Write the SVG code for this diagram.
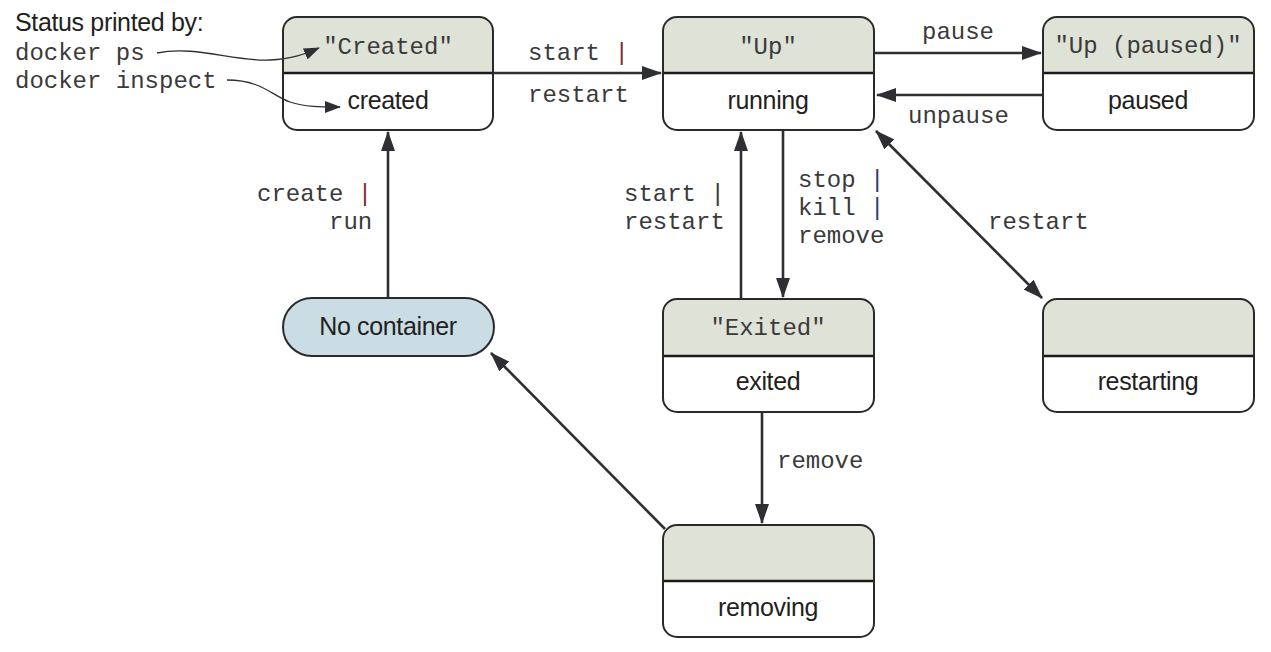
<svg xmlns="http://www.w3.org/2000/svg" width="1271" height="652" viewBox="0 0 1271 652">
<style>
.box{fill:#ffffff;stroke:#2a2a2a;stroke-width:2}
.hdr{fill:#dfe2d7}
.div{stroke:#1a1a1a;stroke-width:2.5}
.mono{font-family:"Liberation Mono","Courier New",monospace;font-size:24px;fill:#3a3a3a}
.sans{font-family:"Liberation Sans",Arial,sans-serif;font-size:25px;fill:#231f20;letter-spacing:-0.35px}
.c{text-anchor:middle}
.e{text-anchor:end}
.edge{fill:none;stroke:#2d2f33;stroke-width:2.6}
.ptr{fill:none;stroke:#2d2f33;stroke-width:1.3}
.red{fill:#7a2e2e}
.blue{fill:#2f3a78}
</style>
<defs>
<marker id="ah" viewBox="0 0 20 14" refX="19" refY="7" markerWidth="20" markerHeight="14" markerUnits="userSpaceOnUse" orient="auto-start-reverse">
<path d="M0,0 L20,7 L0,14 z" fill="#2d2f33"/>
</marker>
<marker id="ahs" viewBox="0 0 16 12" refX="15" refY="6" markerWidth="16" markerHeight="12" markerUnits="userSpaceOnUse" orient="auto">
<path d="M0,0 L16,6 L0,12 z" fill="#2d2f33"/>
</marker>
</defs>

<g id="connectors">
<line class="edge" x1="493" y1="73" x2="661" y2="73" marker-end="url(#ah)"/>
<line class="edge" x1="874" y1="53" x2="1041" y2="53" marker-end="url(#ah)"/>
<line class="edge" x1="1043" y1="95" x2="877" y2="95" marker-end="url(#ah)"/>
<line class="edge" x1="783" y1="130" x2="783" y2="297" marker-end="url(#ah)"/>
<line class="edge" x1="741" y1="299" x2="741" y2="132" marker-end="url(#ah)"/>
<line class="edge" x1="876" y1="131" x2="1042" y2="298" marker-start="url(#ah)" marker-end="url(#ah)"/>
<line class="edge" x1="388" y1="299" x2="388" y2="132" marker-end="url(#ah)"/>
<line class="edge" x1="762" y1="412" x2="762" y2="523" marker-end="url(#ah)"/>
<line class="edge" x1="665" y1="529" x2="491" y2="353" marker-end="url(#ah)"/>
<text class="mono" x="528" y="60">start <tspan class="red">|</tspan></text>
<text class="mono" x="528" y="102">restart</text>
<text class="mono" x="922" y="39">pause</text>
<text class="mono" x="908" y="123">unpause</text>
<text class="mono" x="798" y="187">stop <tspan class="blue">|</tspan></text>
<text class="mono" x="798" y="215">kill <tspan class="blue">|</tspan></text>
<text class="mono" x="798" y="243">remove</text>
<text class="mono" x="624" y="201">start <tspan>|</tspan></text>
<text class="mono" x="624" y="229">restart</text>
<text class="mono" x="988" y="229">restart</text>
<text class="mono" x="257" y="201">create <tspan class="red">|</tspan></text>
<text class="mono" x="329" y="229">run</text>
<text class="mono" x="777" y="468">remove</text>
</g>

<g id="created">
<path class="hdr" d="M297,18 H479 A13,13 0 0 1 492,31 V73 H284 V31 A13,13 0 0 1 297,18 z"/>
<rect class="box" x="283" y="17" width="210" height="113" rx="14" style="fill:none"/>
<line class="div" x1="284" y1="73" x2="492" y2="73"/>
<text class="mono c" x="388" y="54">"Created"</text>
<text class="sans c" x="388" y="109">created</text>
</g>

<g id="running">
<path class="hdr" d="M677,18 H860 A13,13 0 0 1 873,31 V73 H664 V31 A13,13 0 0 1 677,18 z"/>
<rect class="box" x="663" y="17" width="211" height="113" rx="14" style="fill:none"/>
<line class="div" x1="664" y1="73" x2="873" y2="73"/>
<text class="mono c" x="768" y="54">"Up"</text>
<text class="sans c" x="768" y="109">running</text>
</g>

<g id="paused">
<path class="hdr" d="M1057,18 H1240 A13,13 0 0 1 1253,31 V73 H1044 V31 A13,13 0 0 1 1057,18 z"/>
<rect class="box" x="1043" y="17" width="211" height="113" rx="14" style="fill:none"/>
<line class="div" x1="1044" y1="73" x2="1253" y2="73"/>
<text class="mono c" x="1148" y="53">"Up (paused)"</text>
<text class="sans c" x="1148" y="109">paused</text>
</g>

<g id="exited">
<path class="hdr" d="M677,300 H860 A13,13 0 0 1 873,313 V356 H664 V313 A13,13 0 0 1 677,300 z"/>
<rect class="box" x="663" y="299" width="211" height="113" rx="14" style="fill:none"/>
<line class="div" x1="664" y1="356" x2="873" y2="356"/>
<text class="mono c" x="768" y="335">"Exited"</text>
<text class="sans c" x="768" y="390">exited</text>
</g>

<g id="restarting">
<path class="hdr" d="M1057,300 H1240 A13,13 0 0 1 1253,313 V356 H1044 V313 A13,13 0 0 1 1057,300 z"/>
<rect class="box" x="1043" y="299" width="211" height="113" rx="14" style="fill:none"/>
<line class="div" x1="1044" y1="356" x2="1253" y2="356"/>
<text class="sans c" x="1148" y="390">restarting</text>
</g>

<g id="removing">
<path class="hdr" d="M677,526 H860 A13,13 0 0 1 873,539 V581 H664 V539 A13,13 0 0 1 677,526 z"/>
<rect class="box" x="663" y="525" width="211" height="112" rx="14" style="fill:none"/>
<line class="div" x1="664" y1="581" x2="873" y2="581"/>
<text class="sans c" x="768" y="616">removing</text>
</g>

<g id="no-container">
<rect x="283" y="298" width="211" height="58" rx="29" fill="#cadce4" stroke="#2a2a2a" stroke-width="2"/>
<text class="sans c" x="388" y="335">No container</text>
</g>

<g id="legend">
<text class="sans" x="15" y="31">Status printed by:</text>
<text class="mono" x="15" y="60">docker ps</text>
<text class="mono" x="15" y="88">docker inspect</text>
<path class="ptr" d="M157,53 C195,45 235,62 270,60 C292,59 305,54 319,48" marker-end="url(#ahs)"/>
<path class="ptr" d="M227,80 C262,80 272,96 290,102 C305,107 320,107 340,107" marker-end="url(#ahs)"/>
</g>
</svg>
